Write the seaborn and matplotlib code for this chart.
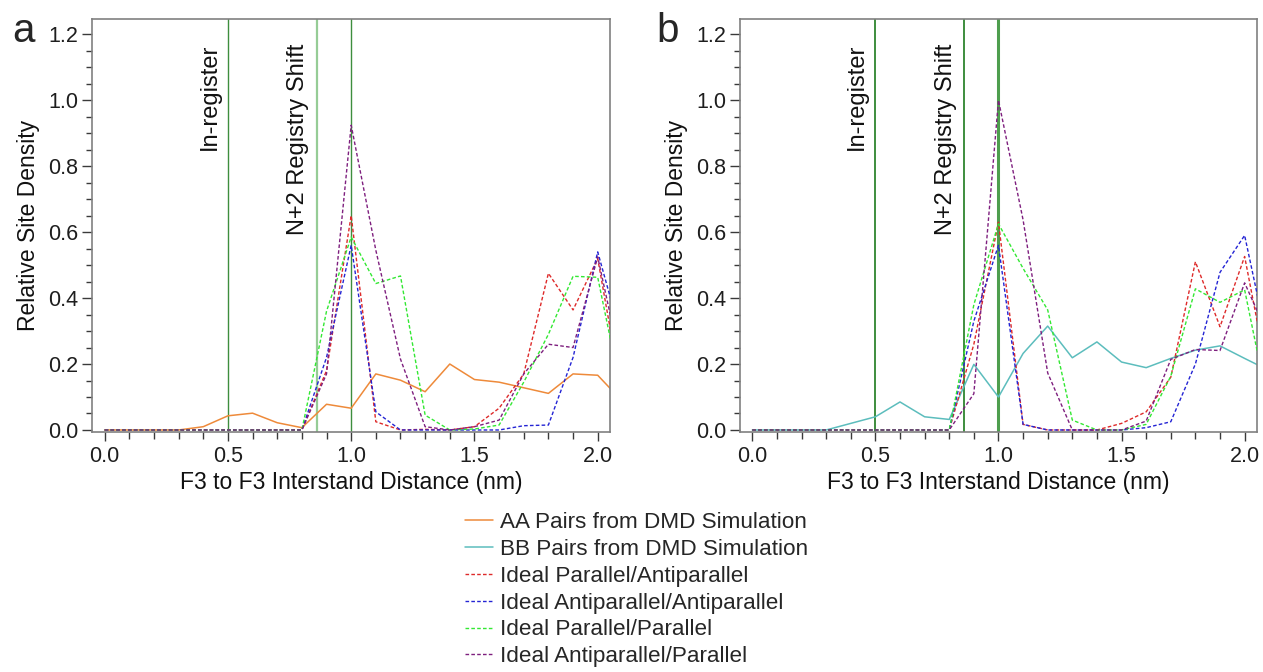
import matplotlib
matplotlib.use("Agg")
import matplotlib.pyplot as plt
from matplotlib.ticker import MultipleLocator, FormatStrFormatter
import seaborn as sns
import pandas as pd

# ---------------- data ----------------
distance = [0.0, 0.1, 0.2, 0.3, 0.4, 0.5, 0.6, 0.7, 0.8, 0.9, 1.0,
            1.1, 1.2, 1.3, 1.4, 1.5, 1.6, 1.7, 1.8, 1.9, 2.0, 2.1]

# panel a
aa_pairs = [0, 0, 0, 0, 0.010, 0.043, 0.051, 0.022, 0.007, 0.078, 0.066,
            0.170, 0.151, 0.116, 0.200, 0.153, 0.145, 0.128, 0.111, 0.170, 0.166, 0.087]
a_par_anti = [0, 0, 0, 0, 0, 0, 0, 0, 0, 0.18, 0.65,
              0.025, 0, 0.002, 0, 0.01, 0.066, 0.17, 0.475, 0.364, 0.52, 0.10]
a_anti_anti = [0, 0, 0, 0, 0, 0, 0, 0, 0, 0.22, 0.56,
               0.055, 0, 0, 0, 0, 0, 0.013, 0.015, 0.22, 0.54, 0.27]
a_par_par = [0, 0, 0, 0, 0, 0, 0, 0, 0, 0.36, 0.585,
             0.444, 0.467, 0.045, 0, 0.003, 0.015, 0.145, 0.29, 0.466, 0.463, 0.10]
a_anti_par = [0, 0, 0, 0, 0, 0, 0, 0, 0, 0.17, 0.924,
              0.545, 0.215, 0.01, 0, 0.01, 0.03, 0.17, 0.26, 0.25, 0.525, 0.18]

# panel b
bb_pairs = [0, 0, 0, 0, 0.02, 0.04, 0.085, 0.04, 0.032, 0.199, 0.10,
            0.232, 0.315, 0.219, 0.267, 0.206, 0.189, 0.217, 0.242, 0.255, 0.217, 0.18]
b_par_anti = [0, 0, 0, 0, 0, 0, 0, 0, 0, 0.26, 0.63,
              0.017, 0, 0, 0, 0.02, 0.055, 0.16, 0.51, 0.313, 0.526, 0.14]
b_anti_anti = [0, 0, 0, 0, 0, 0, 0, 0, 0, 0.33, 0.56,
               0.017, 0, 0, 0, 0, 0.007, 0.025, 0.20, 0.478, 0.59, 0.24]
b_par_par = [0, 0, 0, 0, 0, 0, 0, 0, 0, 0.38, 0.625,
             0.49, 0.364, 0.03, 0, 0, 0.017, 0.163, 0.428, 0.387, 0.425, 0.06]
b_anti_par = [0, 0, 0, 0, 0, 0, 0, 0, 0, 0.11, 1.0,
              0.637, 0.173, 0, 0, 0, 0.027, 0.214, 0.244, 0.241, 0.446, 0.28]

series_labels = ["AA Pairs from DMD Simulation", "BB Pairs from DMD Simulation",
                 "Ideal Parallel/Antiparallel", "Ideal Antiparallel/Antiparallel",
                 "Ideal Parallel/Parallel", "Ideal Antiparallel/Parallel"]
marker_positions = [0.5, 0.86, 1.0]
marker_texts = ["In-register", "N+2 Registry Shift"]

# ---------------- style ----------------
sns.set_style("ticks")
plt.rcParams["font.family"] = ["Liberation Sans", "DejaVu Sans"]

colors = {
    series_labels[0]: "#EE8A3A",
    series_labels[1]: "#5CBDBD",
    series_labels[2]: "#DE2A2A",
    series_labels[3]: "#2424D4",
    series_labels[4]: "#33E833",
    series_labels[5]: "#7E1F7E",
}
dash = (0, (2.6, 1.6))
FS_TICK = 15.5
FS_LABEL = 16.5
FS_NOTE = 17.0
FS_LEG = 16.2

fig = plt.figure(figsize=(12.63, 6.72), dpi=100)
ax_a = fig.add_axes([0.0731, 0.3567, 0.4099, 0.6150])
ax_b = fig.add_axes([0.5859, 0.3567, 0.4093, 0.6150])

panels = [
    (ax_a, aa_pairs, series_labels[0], [a_par_anti, a_anti_anti, a_par_par, a_anti_par],
     [("#3E8E3E", 1.0), ("#96CC96", 1.6), ("#3E8E3E", 1.0)]),
    (ax_b, bb_pairs, series_labels[1], [b_par_anti, b_anti_anti, b_par_par, b_anti_par],
     [("#1E7A1E", 1.2), ("#1E7A1E", 1.2), ("#4E9E4E", 2.2)]),
]

for ax, sim, sim_label, ideals, vstyles in panels:
    for pos, (vc, vw) in zip(marker_positions, vstyles):
        ax.axvline(pos, color=vc, lw=vw, zorder=1)
    df = pd.DataFrame({"distance": distance, "density": sim})
    sns.lineplot(data=df, x="distance", y="density", ax=ax, color=colors[sim_label],
                 lw=1.1, label=sim_label, legend=False, errorbar=None, zorder=2)
    for vals, lab in zip(ideals, series_labels[2:]):
        d = pd.DataFrame({"distance": distance, "density": vals})
        sns.lineplot(data=d, x="distance", y="density", ax=ax, color=colors[lab],
                     lw=1.0, linestyle=dash, label=lab, legend=False,
                     errorbar=None, zorder=3)
    ax.text(marker_positions[0] - 0.03, 1.17, marker_texts[0], rotation=90,
            ha="right", va="top", fontsize=FS_NOTE, color="#111111")
    ax.text(marker_positions[1] - 0.03, 1.17, marker_texts[1], rotation=90,
            ha="right", va="top", fontsize=FS_NOTE, color="#111111")

    ax.set_xlim(-0.05, 2.05)
    ax.set_ylim(-0.007, 1.246)
    ax.xaxis.set_major_locator(MultipleLocator(0.5))
    ax.xaxis.set_minor_locator(MultipleLocator(0.1))
    ax.yaxis.set_major_locator(MultipleLocator(0.2))
    ax.yaxis.set_minor_locator(MultipleLocator(0.05))
    ax.xaxis.set_major_formatter(FormatStrFormatter("%.1f"))
    ax.yaxis.set_major_formatter(FormatStrFormatter("%.1f"))
    ax.tick_params(axis="both", which="major", labelsize=FS_TICK, color="#3A3A3A",
                   width=1.0, labelcolor="#1E1E1E", direction="out")
    ax.tick_params(axis="y", which="major", length=7, pad=3)
    ax.tick_params(axis="y", which="minor", length=4.5, color="#3A3A3A", width=1.0)
    ax.tick_params(axis="x", which="major", length=6.5, pad=3.5)
    ax.tick_params(axis="x", which="minor", length=5, color="#3A3A3A", width=1.0)
    for sp in ax.spines.values():
        sp.set_visible(True)
        sp.set_color("#808080")
        sp.set_linewidth(1.2)
    ax.set_xlabel("F3 to F3 Interstand Distance (nm)", fontsize=FS_LABEL,
                  color="#111111", labelpad=3)
    ax.set_ylabel("Relative Site Density", fontsize=FS_LABEL, color="#111111",
                  labelpad=6)

fig.text(12 / 1263, 1 - 42 / 672, "a", fontsize=29, va="baseline", ha="left")
fig.text(656 / 1263, 1 - 42 / 672, "b", fontsize=29, va="baseline", ha="left")

h_a, l_a = ax_a.get_legend_handles_labels()
h_b, l_b = ax_b.get_legend_handles_labels()
lookup = dict(zip(l_a, h_a))
lookup.update({l: h for l, h in zip(l_b, h_b) if l not in lookup})
handles = [lookup[l] for l in series_labels]
fig.legend(handles, series_labels, loc="upper left",
           bbox_to_anchor=(465 / 1263, 1 - 512 / 672), frameon=False,
           borderpad=0, borderaxespad=0, fontsize=FS_LEG, handlelength=1.25,
           handletextpad=0.31, labelspacing=0.26)

fig.savefig("out.png", dpi=100)
